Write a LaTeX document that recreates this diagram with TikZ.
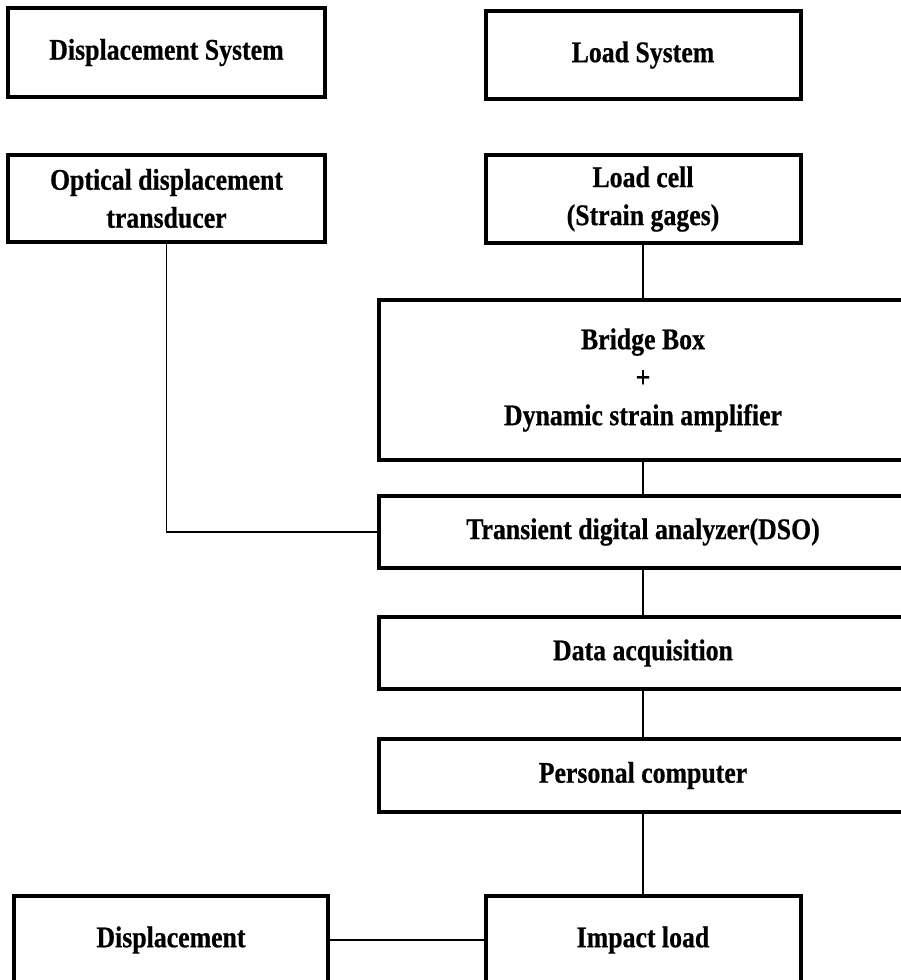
\documentclass[tikz,border=0pt]{standalone}
\usepackage{fontspec}
\newfontfamily\boxfont{Liberation Serif}[FakeStretch=0.86,FakeBold=0.6]
\begin{document}
\begin{tikzpicture}[x=1pt,y=-1pt,
  box/.style={draw, line width=4pt, align=center, inner sep=0pt,
    font=\boxfont\bfseries\fontsize{30}{38}\selectfont},
  link/.style={line width=1.6pt}]
\useasboundingbox (0,0) rectangle (901,980);
\clip (0,0) rectangle (901,980);
\node[box, minimum width=317pt, minimum height=89pt] (dsys) at (166.5,52.5) {Displacement System};
\node[box, minimum width=315pt, minimum height=88pt] (lsys) at (643,55) {Load System};
\node[box, minimum width=317pt, minimum height=87pt] (opt) at (166.5,198.5) {Optical displacement\\transducer};
\node[box, minimum width=315pt, minimum height=88pt] (lcell) at (643,199) {Load cell\\(Strain gages)};
\node[box, minimum width=528pt, minimum height=160pt] (bridge) at (643,380) {Bridge Box\\+\\Dynamic strain amplifier};
\node[box, minimum width=528pt, minimum height=72pt] (dso) at (643,532) {Transient digital analyzer(DSO)};
\node[box, minimum width=528pt, minimum height=72pt] (daq) at (643,653) {Data acquisition};
\node[box, minimum width=528pt, minimum height=73pt] (pc) at (643,775.5) {Personal computer};
\node[box, minimum width=314pt, minimum height=88pt] (disp) at (171,940) {Displacement};
\node[box, minimum width=315pt, minimum height=88pt] (impact) at (643,940) {Impact load};
\draw[link] (opt.south) |- (dso.west);
\draw[link] (lcell.south) -- (bridge.north);
\draw[link] (bridge.south) -- (dso.north);
\draw[link] (dso.south) -- (daq.north);
\draw[link] (daq.south) -- (pc.north);
\draw[link] (pc.south) -- (impact.north);
\draw[link] (disp.east) -- (impact.west);
\end{tikzpicture}
\end{document}
